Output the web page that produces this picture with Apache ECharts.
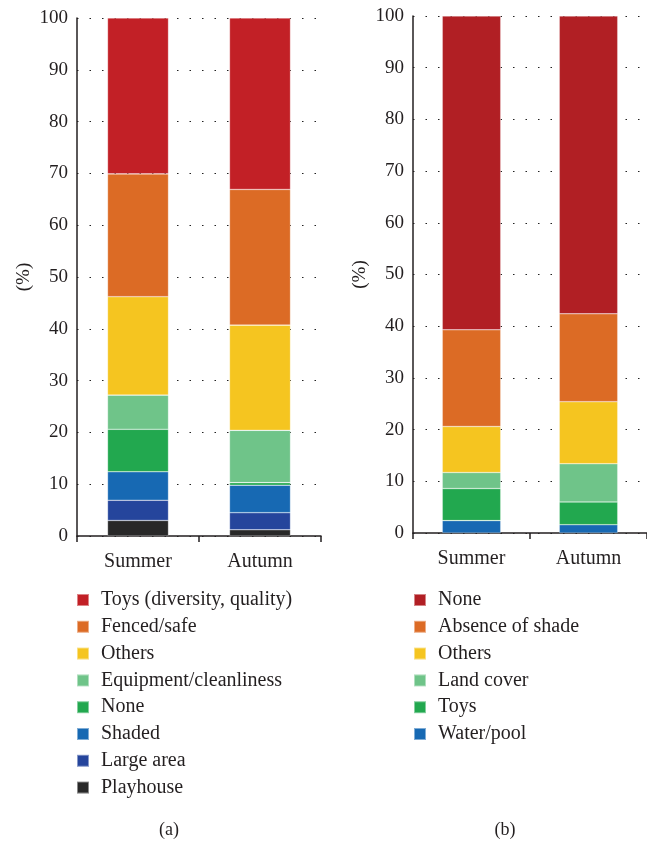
<!DOCTYPE html>
<html>
<head>
<meta charset="utf-8">
<script src="https://cdn.jsdelivr.net/npm/echarts@6/dist/echarts.min.js"></script>
<style>
  html, body { margin: 0; padding: 0; background: #fff; }
  #main { width: 647px; height: 841px; }
</style>
</head>
<body>
<div id="main"></div>
<script>
// data (percent of answers)
const seasons = ['Summer', 'Autumn'];
const yTicks = [0, 10, 20, 30, 40, 50, 60, 70, 80, 90, 100];

// (a) stacked from the bottom
const namesA = ['Playhouse', 'Large area', 'Shaded', 'None', 'Equipment/cleanliness', 'Others', 'Fenced/safe', 'Toys (diversity, quality)'];
const playhouse = [3.0, 1.2];
const largeArea = [3.9, 3.3];
const shaded = [5.5, 5.3];
const noneA = [8.2, 0.5];
const equipment = [6.6, 10.1];
const othersA = [19.0, 20.3];
const fenced = [23.7, 26.2];
const toysA = [30.1, 33.1];
const valuesA = [playhouse, largeArea, shaded, noneA, equipment, othersA, fenced, toysA];
const colorsA = ['#282828', '#25459c', '#1769b3', '#22a84f', '#6fc489', '#f5c520', '#dc6b25', '#c22026'];

// (b) stacked from the bottom
const namesB = ['Water/pool', 'Toys', 'Land cover', 'Others', 'Absence of shade', 'None'];
const water = [2.4, 1.6];
const toysB = [6.2, 4.4];
const landCover = [3.1, 7.4];
const othersB = [8.9, 12.0];
const shadeAbsent = [18.7, 17.0];
const noneB = [60.7, 57.6];
const valuesB = [water, toysB, landCover, othersB, shadeAbsent, noneB];
const colorsB = ['#1769b3', '#22a84f', '#6fc489', '#f5c520', '#dc6b25', '#b11f24'];

const font = 'Liberation Serif';
const txt = '#231f20';

let myChart = echarts.init(document.getElementById('main'));

function xAxis(grid) {
    return {
        type: 'category',
        gridIndex: grid,
        data: seasons,
        axisLine: { lineStyle: { color: txt, width: 1.5 } },
        axisTick: { show: true, interval: 0, length: 6, lineStyle: { color: txt, width: 1.5 } },
        axisLabel: { fontFamily: font, fontSize: 20, color: txt, margin: 16 }
    };
}

function yAxis(grid) {
    return {
        type: 'value',
        gridIndex: grid,
        min: yTicks[0],
        max: yTicks[yTicks.length - 1],
        interval: 10,
        name: '(%)',
        nameLocation: 'middle',
        nameGap: 43,
        nameTextStyle: { fontFamily: font, fontSize: 19, color: txt },
        axisLine: { show: true, lineStyle: { color: txt, width: 1.5 } },
        axisTick: { show: false },
        axisLabel: { fontFamily: font, fontSize: 19, color: txt, margin: 9 },
        splitLine: { lineStyle: { color: '#222', width: 1.2, type: [1.5, 11] } }
    };
}

const series = [];
namesA.forEach(function (name, i) {
    series.push({
        name: name, type: 'bar', stack: 'a', xAxisIndex: 0, yAxisIndex: 0,
        barWidth: '50%', data: valuesA[i],
        itemStyle: { color: colorsA[i], borderColor: 'rgba(255,255,255,0.45)', borderWidth: 0.6 }
    });
});
namesB.forEach(function (name, i) {
    series.push({
        name: name, type: 'bar', stack: 'b', xAxisIndex: 1, yAxisIndex: 1,
        barWidth: '50%', data: valuesB[i],
        itemStyle: { color: colorsB[i], borderColor: 'rgba(255,255,255,0.45)', borderWidth: 0.6 }
    });
});

function legend(names, colors, left) {
    return {
        orient: 'vertical',
        left: left,
        top: 590,
        padding: 0,
        icon: 'rect',
        itemWidth: 12,
        itemHeight: 12,
        itemGap: 6.8,
        selectedMode: false,
        textStyle: { fontFamily: font, fontSize: 20, lineHeight: 20, color: txt, padding: [0, 0, 0, 7] },
        // legend lists from top of the stack down; colours set per item since names repeat
        data: names.map(function (n, i) {
            return { name: n, itemStyle: { color: colors[i] } };
        }).reverse()
    };
}

myChart.setOption({
    animation: false,
    title: [
        { text: '(a)', left: 164, top: 816, textAlign: 'center',
          textStyle: { fontFamily: font, fontSize: 18, fontWeight: 'normal', color: txt } },
        { text: '(b)', left: 500, top: 816, textAlign: 'center',
          textStyle: { fontFamily: font, fontSize: 18, fontWeight: 'normal', color: txt } }
    ],
    grid: [
        { left: 77, top: 18, width: 244, height: 518 },
        { left: 413, top: 16, width: 243, height: 517 }
    ],
    legend: [legend(namesA, colorsA, 76), legend(namesB, colorsB, 413)],
    xAxis: [xAxis(0), xAxis(1)],
    yAxis: [yAxis(0), yAxis(1)],
    series: series
});
</script>
</body>
</html>
